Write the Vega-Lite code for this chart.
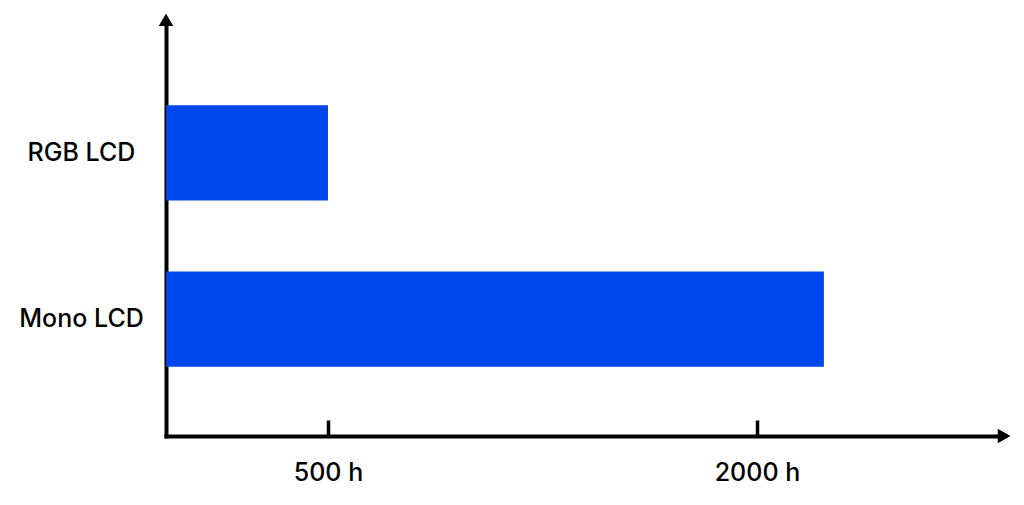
{
  "$schema": "https://vega.github.io/schema/vega-lite/v6.json",
  "width": 838,
  "height": 416,
  "autosize": "none",
  "padding": {"left": 166, "top": 20, "right": 20, "bottom": 69},
  "background": "white",
  "config": {
    "view": {"stroke": null},
    "font": "Inter",
    "axis": {"grid": false, "title": null, "labelFont": "Inter", "labelFontSize": 25, "labelFontWeight": 500, "labelColor": "black", "domainColor": "black", "domainWidth": 4, "domainCap": "square"}
  },
  "data": {"values": [
    {"display": "RGB LCD", "hours": 500},
    {"display": "Mono LCD", "hours": 2234}
  ]},
  "layer": [
    {
      "mark": {"type": "bar", "color": "#0047EB"},
      "encoding": {
        "y": {"field": "display", "type": "nominal", "sort": ["RGB LCD", "Mono LCD"],
          "scale": {"paddingInner": 0.4277, "paddingOuter": 0.4639, "align": 0.552},
          "axis": {"ticks": false, "labelAlign": "center", "labelPadding": 85, "labelBaseline": "middle"}},
        "x": {"field": "hours", "type": "quantitative",
          "scale": {"domain": [-66.4, 2863.7], "nice": false, "zero": false},
          "axis": {"values": [500, 2000], "tickSize": -16, "tickWidth": 3.5, "tickColor": "black", "labelPadding": 52, "labelBaseline": "middle", "labelExpr": "datum.value + ' h'", "labelFlush": false}},
        "x2": {"datum": -66.4}
      }
    },
    {
      "mark": {"type": "point", "shape": "triangle-up", "filled": true, "color": "black", "size": 200, "opacity": 1},
      "encoding": {"x": {"value": 0}, "y": {"value": 0}}
    },
    {
      "mark": {"type": "point", "shape": "triangle-right", "filled": true, "color": "black", "size": 200, "opacity": 1},
      "encoding": {"x": {"value": "width"}, "y": {"value": "height"}}
    }
  ]
}
